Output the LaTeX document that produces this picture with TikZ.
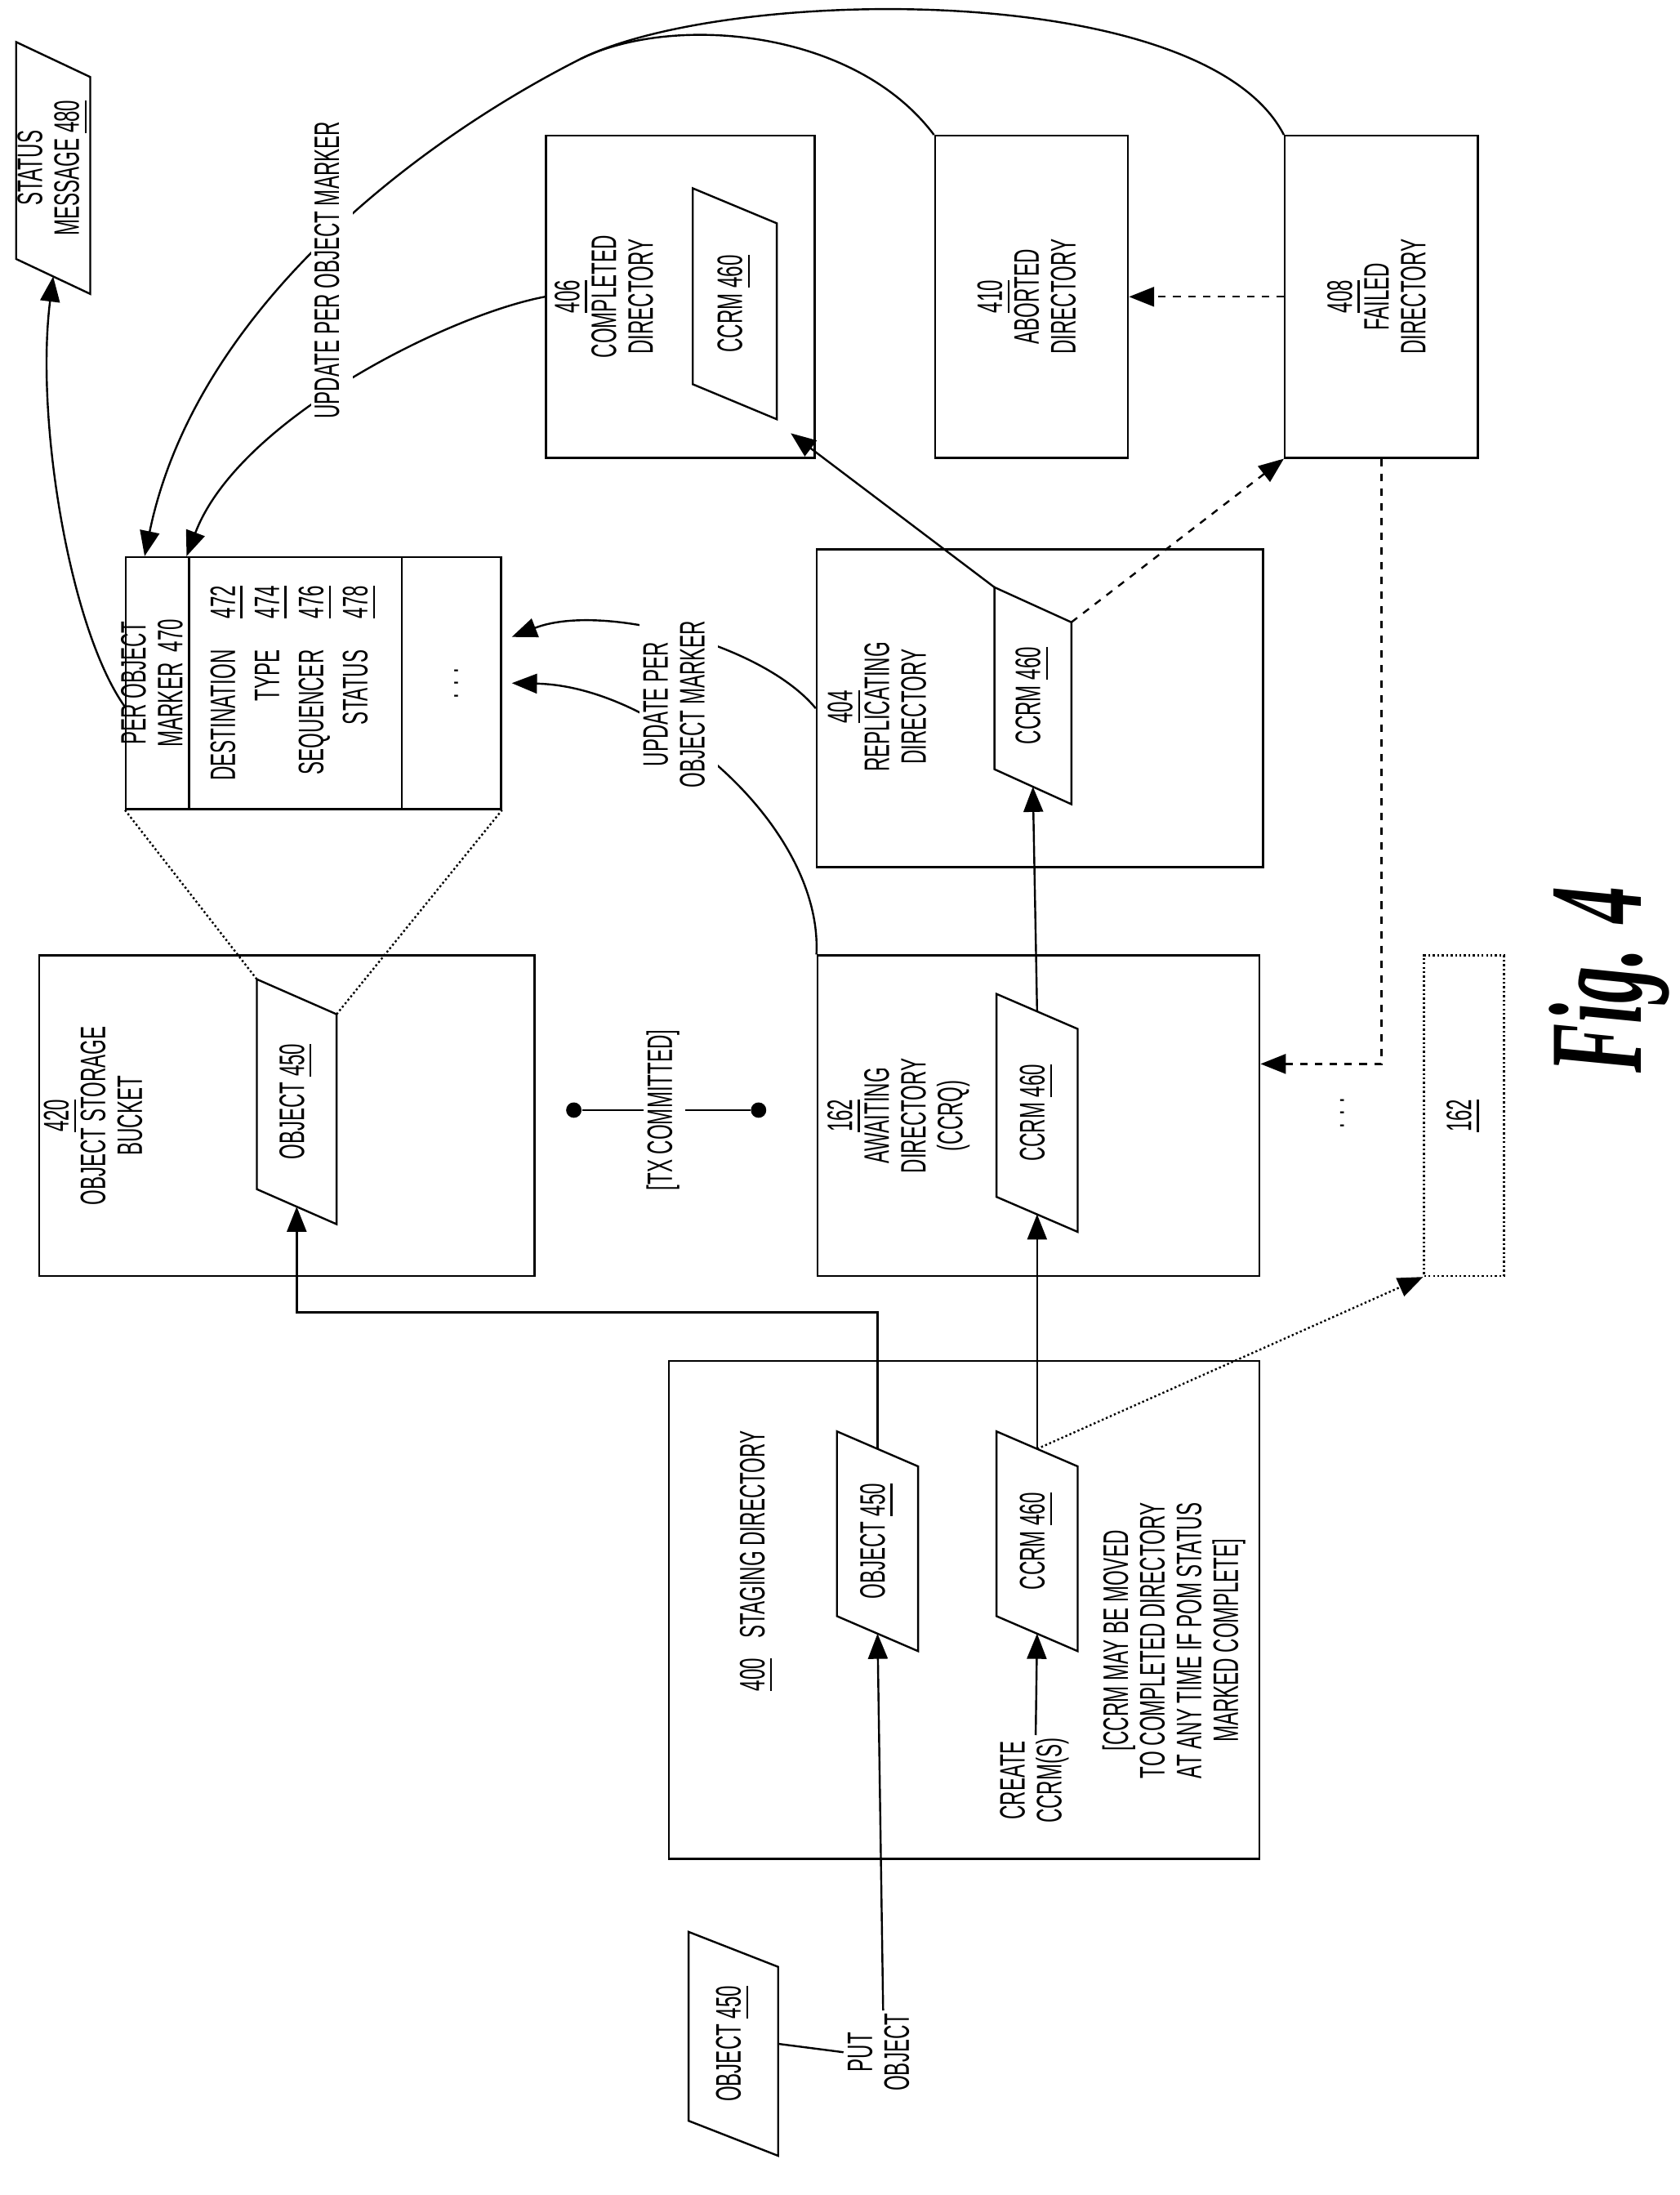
\documentclass[tikz,border=0pt]{standalone}
\usepackage{fontspec}
\setmainfont{Liberation Sans}
\newfontfamily\figfont{Liberation Serif}
\usepackage{graphicx}
\usetikzlibrary{arrows.meta,calc}
\newcommand{\rt}[1]{\rotatebox{90}{\scalebox{1}[1.8]{\fontsize{8}{8.3}\selectfont\begin{tabular}{@{}c@{}}#1\end{tabular}}}}
\newcommand{\ul}[1]{\underline{#1}}
\tikzset{
  dir/.style={draw, thick, inner sep=0pt},
  pg/.style={inner sep=0pt, outer sep=0pt},
  txt/.style={inner sep=1pt},
  conn/.style={thick, -{Triangle[length=0.36cm,width=0.28cm]}},
}
\begin{document}
\begin{tikzpicture}[x=0.02cm, y=-0.02cm]
\useasboundingbox (0,0) rectangle (1200,1568);

% directories
\node[dir, minimum width=8.44cm, minimum height=7.12cm] (stag) at (689,1150) {};
\node[dir, minimum width=7.08cm, minimum height=4.58cm] (bucket) at (205,797) {};
\node[dir, minimum width=6.32cm, minimum height=4.58cm] (await) at (742,797) {};
\node[draw, densely dotted, thick, minimum width=1.14cm, minimum height=4.58cm] (dot162) at (1046,797) {\rt{\ul{162}}};
\node[dir, minimum width=6.38cm, minimum height=4.54cm] (repl) at (743,506) {};
\node[dir, minimum width=3.84cm, minimum height=4.6cm] (compl) at (486,212) {};
\node[dir, minimum width=2.76cm, minimum height=4.6cm] (abort) at (737,212) {\rt{\ul{410}\\ABORTED\\DIRECTORY}};
\node[dir, minimum width=2.76cm, minimum height=4.6cm] (fail) at (987,212) {\rt{\ul{408}\\FAILED\\DIRECTORY}};

\node[txt] (staglbl) at (541,1115) {\rt{\ul{400}\quad STAGING DIRECTORY}};
\node[txt] (bucketlbl) at (70,797) {\rt{\ul{420}\\OBJECT STORAGE\\BUCKET}};
\node[txt] (awaitlbl) at (643,797) {\rt{\ul{162}\\AWAITING\\DIRECTORY\\(CCRQ)}};
\node[txt] (repllbl) at (630,505) {\rt{\ul{404}\\REPLICATING\\DIRECTORY}};
\node[txt] (compllbl) at (435,212) {\rt{\ul{406}\\COMPLETED\\DIRECTORY}};

% per object marker
\node[dir, minimum width=5.36cm, minimum height=3.6cm] (pom) at (224,488) {};
\draw[thick] (135,398) -- (135,578);
\draw[thick] (287,398) -- (287,578);
\node[txt] (pomhead) at (112,488) {\rt{PER OBJECT\\MARKER\ \ \ul{470}}};
\node[txt] (pomfields) at (209,488) {\rotatebox{90}{\scalebox{1}[1.8]{\fontsize{8}{8.3}\selectfont\renewcommand{\arraystretch}{1.2}\begin{tabular}{@{}r@{\hspace{1.6em}}l@{}}
DESTINATION & \ul{472}\\ TYPE & \ul{474}\\ SEQUENCER & \ul{476}\\ STATUS & \ul{478}\end{tabular}}}};
\node[txt] (pomdots) at (322,488) {\rt{. . .}};

% parallelograms
\node[pg, minimum width=1.06cm, minimum height=3.6cm] (status) at (38,120) {\rt{STATUS\\MESSAGE \ul{480}}};
\node[pg, minimum width=1.28cm, minimum height=3.2cm] (obj0) at (524,1460) {\rt{OBJECT \ul{450}}};
\node[pg, minimum width=1.16cm, minimum height=3.14cm] (objS) at (627,1101) {\rt{OBJECT \ul{450}}};
\node[pg, minimum width=1.16cm, minimum height=3.14cm] (ccrmS) at (741,1101) {\rt{CCRM \ul{460}}};
\node[pg, minimum width=1.14cm, minimum height=3.5cm] (objB) at (212,787) {\rt{OBJECT \ul{450}}};
\node[pg, minimum width=1.16cm, minimum height=3.4cm] (ccrmA) at (741,795) {\rt{CCRM \ul{460}}};
\node[pg, minimum width=1.1cm, minimum height=3.1cm] (ccrmR) at (738,497) {\rt{CCRM \ul{460}}};
\node[pg, minimum width=1.2cm, minimum height=3.3cm] (ccrmC) at (525,217) {\rt{CCRM \ul{460}}};
\foreach \n in {status,obj0,objS,ccrmS,objB,ccrmA,ccrmR,ccrmC}
  \draw[thick] (\n.north west) -- ([yshift=-0.5cm]\n.north east) -- (\n.south east) -- ([yshift=0.5cm]\n.south west) -- cycle;

% labels
\node[txt] (put) at (631,1466) {\rt{PUT\\OBJECT}};
\node[txt] (create) at (740,1272) {\rt{CREATE\\CCRM(S)}};
\node[txt] (note) at (840,1172) {\rt{[CCRM MAY BE MOVED\\TO COMPLETED DIRECTORY\\AT ANY TIME IF POM STATUS\\MARKED COMPLETE]}};
\node[txt] (more) at (955,795) {\rt{. . .}};
\node[circle, fill, inner sep=0pt, minimum size=0.22cm] (tx1) at (410,793) {};
\node[circle, fill, inner sep=0pt, minimum size=0.22cm] (tx2) at (542,793) {};
\draw[thick] (tx1) -- (tx2);
\node[txt, fill=white] (txlbl) at (475,793) {\rt{[TX COMMITTED]}};

% connectors
\draw[thick] (obj0.east) -- (put.west);
\draw[conn] (put.north) -- ([yshift=0.25cm]objS.south);
\draw[conn] (create.north) -- ([yshift=0.25cm]ccrmS.south);
\coordinate (bend) at ($(objB.south)+(0,63)$);
\draw[conn] ([yshift=-0.25cm]objS.north) |- (bend) -- ([yshift=0.25cm]objB.south);
\draw[conn] ([yshift=-0.25cm]ccrmS.north) -- ([yshift=0.25cm]ccrmA.south);
\draw[conn] ([yshift=-0.25cm]ccrmA.north) -- ([yshift=0.25cm]ccrmR.south);
\draw[conn, densely dotted] ([yshift=-0.25cm]ccrmS.north) -- (dot162.south west);
\draw[conn, thick] (ccrmR.north west) -- ([xshift=0.2cm,yshift=-0.2cm]ccrmC.south east);
\draw[conn, dashed] ([yshift=-0.5cm]ccrmR.north east) -- (fail.south west);
\draw[conn, dashed] (fail.west) -- (abort.east);
\draw[conn, dashed] (fail.south) |- ([yshift=0.74cm]await.east);
\draw[densely dotted, thick] (objB.north west) -- (pom.south west);
\draw[densely dotted, thick] ([yshift=-0.5cm]objB.north east) -- (pom.south east);

% update curves
\coordinate (mrg) at (415,42);
\draw[thick] (fail.north west) .. controls (860,-15) and (520,-10) .. (mrg);
\draw[thick] (abort.north west) .. controls (610,20) and (480,10) .. (mrg);
\draw[conn] (mrg) .. controls (300,100) and (140,220) .. ([xshift=0.28cm]pom.north west);
\draw[conn] (compl.west) .. controls (320,225) and (170,300) .. ([xshift=0.88cm]pom.north west);
\draw[conn] (repl.west) .. controls (545,460) and (430,430) .. ($(pom.east)+(0.14cm,0.66cm)$);
\draw[conn] (await.north west) .. controls (588,590) and (470,490) .. ($(pom.east)+(0.14cm,0)$);
\draw[conn] ([yshift=-0.34cm]pom.west) .. controls (50,450) and (25,300) .. ([yshift=0.25cm]status.south);
\node[txt, fill=white] (upd1) at (237,193) {\rt{UPDATE PER OBJECT MARKER}};
\node[txt, fill=white] (upd2) at (485,503) {\rt{UPDATE PER\\OBJECT MARKER}};

\node (fig) at (1150,700) {\rotatebox{90}{\scalebox{1}[1.8]{\figfont\fontsize{30}{30}\selectfont\bfseries\itshape Fig. 4}}};
\end{tikzpicture}
\end{document}
